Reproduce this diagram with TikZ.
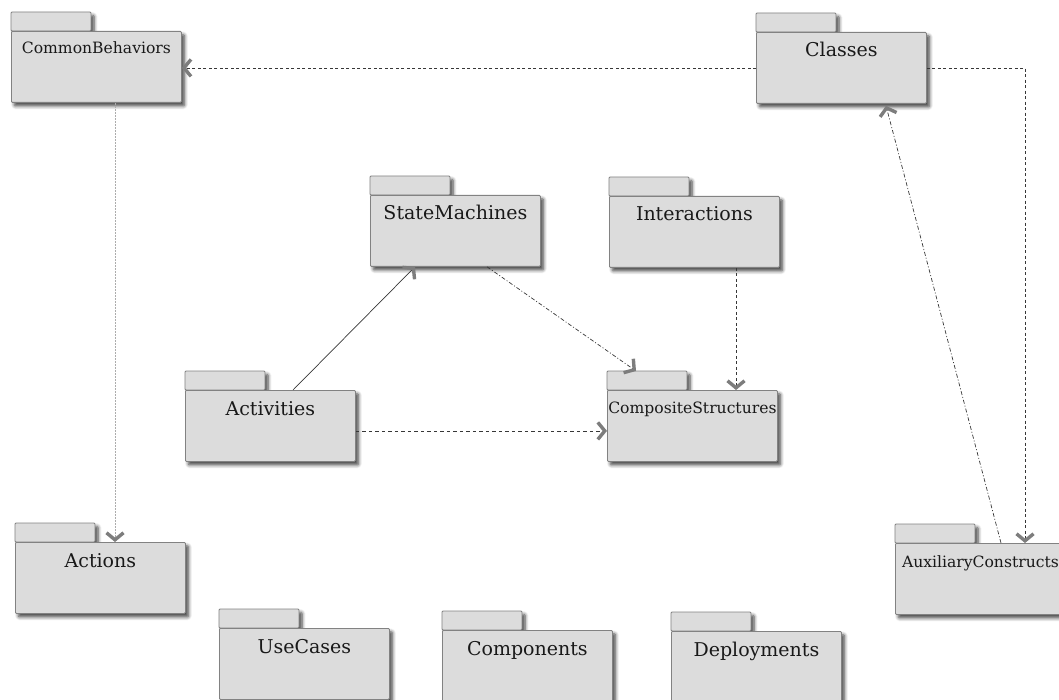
\documentclass[tikz,border=0pt]{standalone}
\usepackage{fontspec}
\setmainfont{DejaVu Serif}
\usetikzlibrary{arrows.meta,shadows.blur}
\definecolor{pkgfill}{RGB}{220,220,220}
\definecolor{pkgline}{RGB}{130,130,130}
\definecolor{tipgray}{RGB}{125,125,125}
\definecolor{linegray}{RGB}{55,55,55}
\definecolor{textgray}{RGB}{25,25,25}
\newcommand\bigpkg{\fontsize{19}{22}\selectfont}
\newcommand\smallpkg{\fontsize{15.6}{18}\selectfont}
\tikzset{
  pkgshadow/.style={blur shadow={shadow xshift=3pt,shadow yshift=-3.5pt,
      shadow blur steps=6,shadow blur radius=3.5pt,shadow opacity=75}},
  pkgtab/.style={draw=pkgline,fill=pkgfill,line width=0.8pt,
      rounded corners=1pt,pkgshadow},
  pkgbody/.style={draw=pkgline,fill=pkgfill,line width=0.8pt,
      rounded corners=1pt,pkgshadow,anchor=north west,
      minimum width=170pt,minimum height=71pt,inner sep=0pt},
  tip/.style={-{Straight Barb[length=7pt,width=17pt,line width=3.4pt,color=tipgray]}},
  dotline/.style={tip,linegray,line width=0.7pt,dash pattern=on 3pt off 2.5pt},
  dashline/.style={tip,linegray,line width=0.7pt,dash pattern=on 3.5pt off 3pt},
  dashdotline/.style={tip,linegray,line width=0.7pt,
      dash pattern=on 4pt off 2pt on 1pt off 2pt},
  faintline/.style={tip,gray!65,line width=0.7pt,dash pattern=on 2pt off 1pt},
  solidline/.style={tip,linegray,line width=0.7pt},
}
% #1 node name, #2 x, #3 y of body top-left, #4 font, #5 baseline drop, #6 title
\newcommand\pkgbox[6]{%
  \path[pkgtab] (#2,#3) rectangle ++(80,-19);
  \node[pkgbody,label={[anchor=base,yshift=-#5pt,font=#4,text=textgray]north:#6}] (#1) at (#2,#3) {};
}
\begin{document}
\begin{tikzpicture}[x=1pt,y=-1pt]
\useasboundingbox (0,0) rectangle (1059,700);

\pkgbox{cb}{11}{31}{\smallpkg}{23}{CommonBehaviors}
\pkgbox{cls}{756}{32}{\bigpkg}{25}{Classes}
\pkgbox{sm}{370}{195}{\bigpkg}{25}{StateMachines}
\pkgbox{int}{609}{196}{\bigpkg}{25}{Interactions}
\pkgbox{act}{185}{390}{\bigpkg}{25}{Activities}
\pkgbox{cs}{607}{390}{\smallpkg}{23}{CompositeStructures}
\pkgbox{acts}{15}{542}{\bigpkg}{25}{Actions}
\pkgbox{aux}{895}{543}{\smallpkg}{24}{AuxiliaryConstructs}
\pkgbox{uc}{219}{628}{\bigpkg}{25}{UseCases}
\pkgbox{comp}{442}{630}{\bigpkg}{25}{Components}
\pkgbox{dep}{671}{631}{\bigpkg}{25}{Deployments}

% attachment points on the package borders
\coordinate (cbout) at ([xshift=104pt]cb.south west);
\coordinate (auxin) at ([xshift=130pt]aux.north west);
\coordinate (auxout) at ([xshift=106pt]aux.north west);
\coordinate (clsin) at ([xshift=130pt,yshift=-2pt]cls.south west);
\coordinate (actup) at ([xshift=108pt]act.north west);
\coordinate (smin) at ([xshift=45pt]sm.south west);
\coordinate (smout) at ([xshift=117pt]sm.south west);
\coordinate (cstab) at ([xshift=29pt,yshift=19pt]cs.north west);
\coordinate (intout) at ([xshift=127pt]int.south west);
\coordinate (actr) at ([yshift=-5pt]act.east);

% dependencies
\draw[dotline] (cls.west) -- (cls.west -| cb.east);
\draw[dotline] (cls.east) -| (auxin);
\draw[dashdotline] (auxout) -- (clsin);
\draw[faintline] (cbout) -- (cbout |- acts.north);
\draw[solidline] (actup) -- (smin);
\draw[dashdotline] (smout) -- (cstab);
\draw[dotline] (intout) -- (intout |- cs.north);
\draw[dashline] (actr) -- (actr -| cs.west);
\end{tikzpicture}
\end{document}
